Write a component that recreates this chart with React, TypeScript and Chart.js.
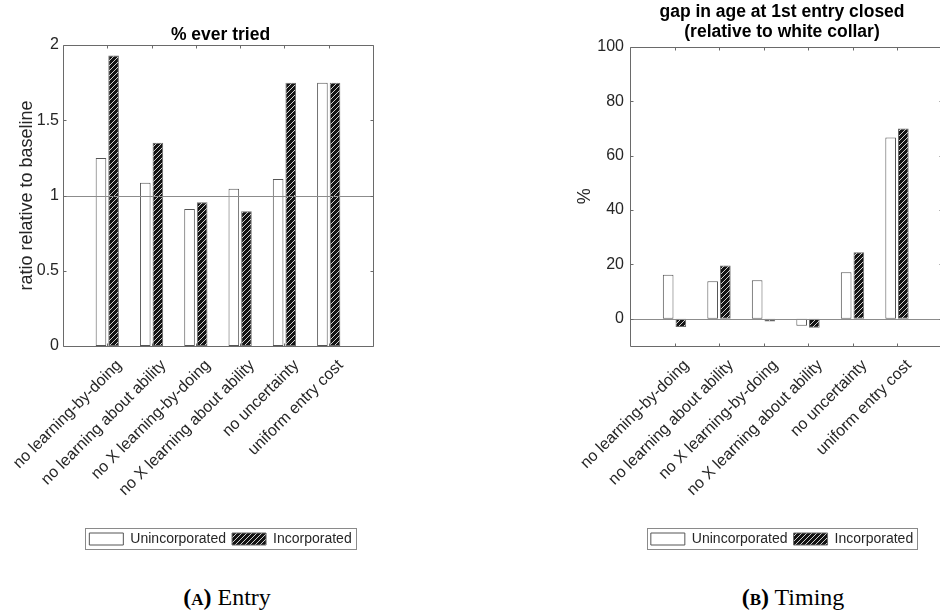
import React, { useEffect, useRef } from 'react';
import { Chart, registerables } from 'chart.js';

Chart.register(...registerables);

// ---------------- data ----------------
const CATEGORIES = [
  'no learning-by-doing',
  'no learning about ability',
  'no X learning-by-doing',
  'no X learning about ability',
  'no uncertainty',
  'uniform entry cost',
];
const SERIES_NAMES = ['Unincorporated', 'Incorporated'];

const ENTRY_TITLE = '% ever tried';
const ENTRY_YLABEL = 'ratio relative to baseline';
const ENTRY_UNINC = [1.25, 1.085, 0.91, 1.045, 1.11, 1.75];
const ENTRY_INC = [1.93, 1.35, 0.955, 0.895, 1.75, 1.75];
const ENTRY_TICKS = [0, 0.5, 1, 1.5, 2];
const ENTRY_MIN = 0;
const ENTRY_MAX = 2;
const ENTRY_REF = 1;

const TIMING_TITLE = ['gap in age at 1st entry closed', '(relative to white collar)'];
const TIMING_YLABEL = '%';
const TIMING_UNINC = [16.2, 13.8, 14.2, -2.6, 17.1, 66.6];
const TIMING_INC = [-3.0, 19.6, -1.0, -3.3, 24.5, 69.9];
const TIMING_TICKS = [0, 20, 40, 60, 80, 100];
const TIMING_MIN = -10;
const TIMING_MAX = 100;
const TIMING_REF = 0;

// ---------------- style ----------------
const SANS = '"Liberation Sans", Arial, Helvetica, sans-serif';
const SERIF = '"Liberation Serif", "Times New Roman", serif';
const TEXT = '#262626';
const AXIS = '#6a6a6a';

function makeHatch(canvas: HTMLCanvasElement): CanvasPattern | string {
  const t = document.createElement('canvas');
  t.width = 5;
  t.height = 5;
  const c = t.getContext('2d');
  const main = canvas.getContext('2d');
  if (!c || !main) return '#111';
  c.fillStyle = '#141414';
  c.fillRect(0, 0, 5, 5);
  c.fillStyle = '#d2d2d2';
  for (let i = 0; i < 5; i++) c.fillRect(i, 4 - i, 1, 1);
  return main.createPattern(t, 'repeat') || '#111';
}

const matlabAxes = {
  id: 'matlabAxes',
  afterDatasetsDraw(chart: any, _args: any, opts: any) {
    const { ctx, chartArea: a, scales } = chart;
    const py = Math.round(scales.y.getPixelForValue(opts.ref)) + 0.5;
    ctx.save();
    ctx.strokeStyle = '#8c8c8c';
    ctx.lineWidth = 1;
    ctx.beginPath();
    ctx.moveTo(a.left, py);
    ctx.lineTo(a.right, py);
    ctx.stroke();
    ctx.restore();
  },
  afterDraw(chart: any) {
    const { ctx, chartArea: a, scales } = chart;
    const L = Math.round(a.left) + 0.5;
    const R = Math.round(a.right) + 0.5;
    const T = Math.round(a.top) + 0.5;
    const B = Math.round(a.bottom) + 0.5;
    ctx.save();
    ctx.strokeStyle = AXIS;
    ctx.lineWidth = 1;
    ctx.beginPath();
    ctx.rect(L, T, R - L, B - T);
    const tk = 3;
    scales.y.ticks.forEach((t: any) => {
      const y = Math.round(scales.y.getPixelForValue(t.value)) + 0.5;
      ctx.moveTo(L, y);
      ctx.lineTo(L + tk, y);
      ctx.moveTo(R, y);
      ctx.lineTo(R - tk, y);
    });
    for (let i = 1; i <= CATEGORIES.length; i++) {
      const x = Math.round(scales.x.getPixelForValue(i)) + 0.5;
      ctx.moveTo(x, B);
      ctx.lineTo(x, B - tk);
      ctx.moveTo(x, T);
      ctx.lineTo(x, T + tk);
    }
    ctx.stroke();
    // legend outline
    const boxes = chart.legend && chart.legend.legendHitBoxes;
    if (boxes && boxes.length) {
      const first = boxes[0];
      const last = boxes[boxes.length - 1];
      const x0 = Math.round(first.left - 4) + 0.5;
      const x1 = Math.round(last.left + last.width + 4) + 0.5;
      const y0 = Math.round(first.top - 4) + 0.5;
      const y1 = Math.round(first.top + first.height + 3) + 0.5;
      ctx.strokeStyle = '#8a8a8a';
      ctx.strokeRect(x0, y0, x1 - x0, y1 - y0);
    }
    ctx.restore();
  },
};

type PanelProps = {
  title: string | string[];
  titlePad: { top: number; bottom: number };
  ylabel: string;
  ylabelPad: number;
  uninc: number[];
  inc: number[];
  ticks: number[];
  min: number;
  max: number;
  refValue: number;
  leftWidth: number;
  rightWidth: number;
  tickPad: number;
  width: number;
  height: number;
  left: number;
};

function Panel(p: PanelProps) {
  const ref = useRef<HTMLCanvasElement | null>(null);
  useEffect(() => {
    const canvas = ref.current;
    if (!canvas) return;
    const hatch = makeHatch(canvas);
    const labels = ['', ...CATEGORIES, ''];
    const chart = new Chart(canvas, {
      type: 'bar',
      data: {
        labels,
        datasets: [
          {
            label: SERIES_NAMES[0],
            data: [null, ...p.uninc, null],
            backgroundColor: '#ffffff',
            borderColor: '#555555',
            borderWidth: 1,
            borderSkipped: false,
            categoryPercentage: 0.57,
            barPercentage: 0.84,
          },
          {
            label: SERIES_NAMES[1],
            data: [null, ...p.inc, null],
            backgroundColor: hatch as any,
            borderColor: '#6a6a6a',
            borderWidth: 1,
            borderSkipped: false,
            categoryPercentage: 0.57,
            barPercentage: 0.84,
          },
        ],
      },
      options: {
        responsive: false,
        animation: false,
        devicePixelRatio: 1,
        events: [],
        layout: { padding: 0 },
        scales: {
          x: {
            type: 'category',
            offset: false,
            grid: { display: false, drawTicks: false },
            border: { display: false },
            ticks: {
              autoSkip: false,
              maxRotation: 45,
              minRotation: 45,
              padding: 10,
              labelOffset: 12,
              color: TEXT,
              font: { family: SANS, size: 16 },
            },
            afterFit: (s: any) => {
              s.height = 180;
            },
          },
          y: {
            type: 'linear',
            min: p.min,
            max: p.max,
            grid: { display: false, drawTicks: false },
            border: { display: false },
            afterBuildTicks: (s: any) => {
              s.ticks = p.ticks.map((v) => ({ value: v }));
            },
            ticks: {
              padding: p.tickPad,
              color: TEXT,
              font: { family: SANS, size: 16 },
              callback: (v: any) => String(v),
            },
            title: {
              display: true,
              text: p.ylabel,
              color: TEXT,
              font: { family: SANS, size: 18 },
              padding: { top: p.ylabelPad, bottom: 0 },
            },
            afterFit: (s: any) => {
              s.width = p.leftWidth;
            },
          },
          y2: {
            type: 'linear',
            position: 'right',
            display: true,
            grid: { display: false, drawTicks: false },
            border: { display: false },
            ticks: { display: false },
            afterFit: (s: any) => {
              s.width = p.rightWidth;
            },
          },
        },
        plugins: {
          title: {
            display: true,
            text: p.title,
            color: '#000',
            font: { family: SANS, size: 17.5, weight: 'bold', lineHeight: 20 / 17.5 },
            padding: p.titlePad,
          },
          legend: {
            display: true,
            position: 'bottom',
            labels: {
              boxWidth: 34,
              boxHeight: 12,
              padding: 6,
              color: TEXT,
              font: { family: SANS, size: 14 },
            },
          },
          tooltip: { enabled: false },
          matlabAxes: { ref: p.refValue },
        } as any,
      },
      plugins: [matlabAxes],
    } as any);
    return () => chart.destroy();
  }, []);
  return (
    <canvas
      ref={ref}
      width={p.width}
      height={p.height}
      style={{ position: 'absolute', left: p.left, top: 0, width: p.width, height: p.height }}
    />
  );
}

export default function App() {
  return (
    <div
      style={{
        position: 'fixed',
        left: 0,
        top: 0,
        width: 940,
        height: 615,
        overflow: 'hidden',
        background: '#fff',
      }}
    >
      <Panel
        title={ENTRY_TITLE}
        titlePad={{ top: 25, bottom: 0 }}
        ylabel={ENTRY_YLABEL}
        ylabelPad={16.5}
        uninc={ENTRY_UNINC}
        inc={ENTRY_INC}
        ticks={ENTRY_TICKS}
        min={ENTRY_MIN}
        max={ENTRY_MAX}
        refValue={ENTRY_REF}
        leftWidth={63}
        rightWidth={68}
        tickPad={4}
        width={441}
        height={556}
        left={0}
      />
      <Panel
        title={TIMING_TITLE}
        titlePad={{ top: 2, bottom: 4.7 }}
        ylabel={TIMING_YLABEL}
        ylabelPad={14.5}
        uninc={TIMING_UNINC}
        inc={TIMING_INC}
        ticks={TIMING_TICKS}
        min={TIMING_MIN}
        max={TIMING_MAX}
        refValue={TIMING_REF}
        leftWidth={70}
        rightWidth={62.5}
        tickPad={6}
        width={444}
        height={556}
        left={560}
      />
      <div
        style={{
          position: 'absolute',
          left: 0,
          width: 454,
          top: 585,
          textAlign: 'center',
          fontFamily: SERIF,
          fontSize: 24,
          lineHeight: '24px',
          color: '#000',
        }}
      >
        <b>
          (<span style={{ fontVariant: 'small-caps' }}>a</span>)
        </b>{' '}
        Entry
      </div>
      <div
        style={{
          position: 'absolute',
          left: 653,
          width: 280,
          top: 585,
          textAlign: 'center',
          fontFamily: SERIF,
          fontSize: 24,
          lineHeight: '24px',
          color: '#000',
        }}
      >
        <b>
          (<span style={{ fontVariant: 'small-caps' }}>b</span>)
        </b>{' '}
        Timing
      </div>
    </div>
  );
}
